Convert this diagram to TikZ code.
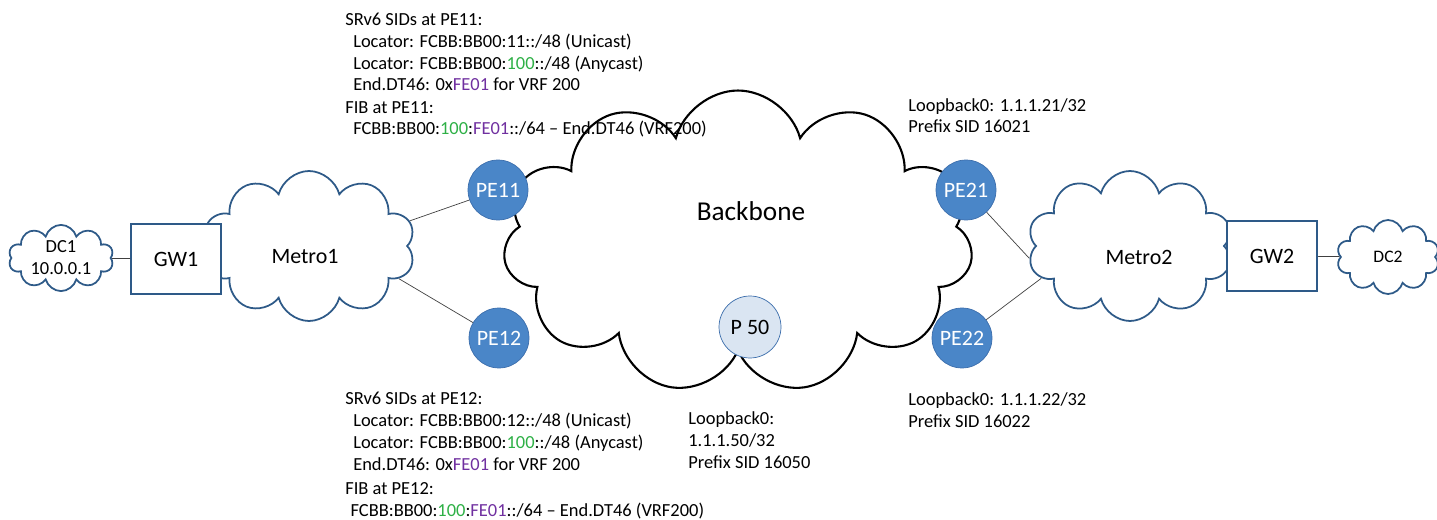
\documentclass[tikz,border=0pt]{standalone}
\usepackage{fontspec}
\setmainfont{Carlito}
\usetikzlibrary{shapes.symbols}
\definecolor{peblue}{RGB}{74,134,200}
\definecolor{peedge}{RGB}{60,110,172}
\definecolor{pfill}{RGB}{218,229,242}
\definecolor{cloudblue}{RGB}{46,90,136}
\definecolor{sidgreen}{RGB}{46,176,70}
\definecolor{sidpurple}{RGB}{112,48,160}
\newcommand{\grn}[1]{\textcolor{sidgreen}{#1}}
\newcommand{\prp}[1]{\textcolor{sidpurple}{#1}}

\begin{document}
\begin{tikzpicture}[x=0.02cm,y=-0.02cm,
    cloudy/.style={cloud,cloud puffs=10,cloud ignores aspect,draw=cloudblue,line width=1pt,fill=white,inner sep=0pt},
    pe/.style={circle,fill=peblue,draw=peedge,thin,minimum size=1.2cm,inner sep=0pt,text=white,font=\fontsize{12.5}{15}\selectfont},
    gwbox/.style={rectangle,draw=cloudblue,line width=1pt,fill=white,minimum width=1.8cm,minimum height=1.4cm,font=\fontsize{12.5}{15}\selectfont},
    lbl/.style={font=\fontsize{12.5}{15}\selectfont,inner sep=0pt},
    info/.style={font=\fontsize{10.5}{12.5}\selectfont,align=left,inner sep=0pt,anchor=base west},
    link/.style={draw=black!75,thin}]
    \useasboundingbox (0,0) rectangle (1437,520);

    % clouds
    \node[cloudy,cloud puffs=11,draw=black,line width=1.2pt,minimum width=9.4cm,minimum height=6.06cm] (backbone) at (738,242) {};
    \node[cloudy,minimum width=4.25cm,minimum height=3cm] (metro1) at (309,246) {};
    \node[cloudy,minimum width=4.1cm,minimum height=3cm] (metro2) at (1130,246) {};
    \node[cloudy,minimum width=2.1cm,minimum height=1.3cm,align=center,font=\fontsize{10.5}{12.5}\selectfont] (dc1) at (61,258) {DC1\\10.0.0.1};
    \node[cloudy,minimum width=2.05cm,minimum height=1.48cm,font=\fontsize{10}{12}\selectfont] (dc2) at (1388,257) {DC2};

    \node[font=\fontsize{15.5}{18}\selectfont,inner sep=0pt] (bbname) at (751,211) {Backbone};
    \node[lbl] (m1name) at (305,257) {Metro1};
    \node[lbl] (m2name) at (1139,257) {Metro2};

    % gateways
    \node[gwbox] (gw1) at (176,259) {GW1};
    \node[gwbox] (gw2) at (1272,256) {GW2};

    % routers
    \node[pe] (pe11) at (498,190) {PE11};
    \node[pe] (pe12) at (499,338) {PE12};
    \node[pe] (pe21) at (966,190) {PE21};
    \node[pe] (pe22) at (962,338) {PE22};
    \node[pe,fill=pfill,draw=peedge,text=black,minimum size=1.24cm] (p50) at (750,327) {P 50};

    % links
    \draw[link] (dc1) -- (gw1);
    \draw[link] (gw2) -- (dc2);
    \draw[link] (metro1.14) -- (pe11);
    \draw[link] (metro1.-20) -- (pe12);
    \draw[link] (pe21) -- (metro2.187);
    \draw[link] (pe22) -- (metro2.200);

    % annotations (anchored on the last line)
    \node[info] (sid11) at (345,91) {SRv6 SIDs at PE11:\\
        \hspace{4.5pt}Locator: FCBB:BB00:11::/48 (Unicast)\\
        \hspace{4.5pt}Locator: FCBB:BB00:\grn{100}::/48 (Anycast)\\
        \hspace{4.5pt}End.DT46: 0x\prp{FE01} for VRF 200};
    \node[info] (fib11) at (345,135) {FIB at PE11:\\
        \hspace{4.5pt}FCBB:BB00:\grn{100}:\prp{FE01}::/64 -- End.DT46 (VRF200)};
    \node[info] (sid12) at (345,470) {SRv6 SIDs at PE12:\\
        \hspace{4.5pt}Locator: FCBB:BB00:12::/48 (Unicast)\\
        \hspace{4.5pt}Locator: FCBB:BB00:\grn{100}::/48 (Anycast)\\
        \hspace{4.5pt}End.DT46: 0x\prp{FE01} for VRF 200};
    \node[info] (fib12) at (345,516) {FIB at PE12:\\
        \hspace{3pt}FCBB:BB00:\grn{100}:\prp{FE01}::/64 -- End.DT46 (VRF200)};
    \node[info] (lo50) at (688,468) {Loopback0:\\1.1.1.50/32\\Prefix SID 16050};
    \node[info] (lo21) at (908,133) {Loopback0: 1.1.1.21/32\\Prefix SID 16021};
    \node[info] (lo22) at (908,427) {Loopback0: 1.1.1.22/32\\Prefix SID 16022};
\end{tikzpicture}
\end{document}
